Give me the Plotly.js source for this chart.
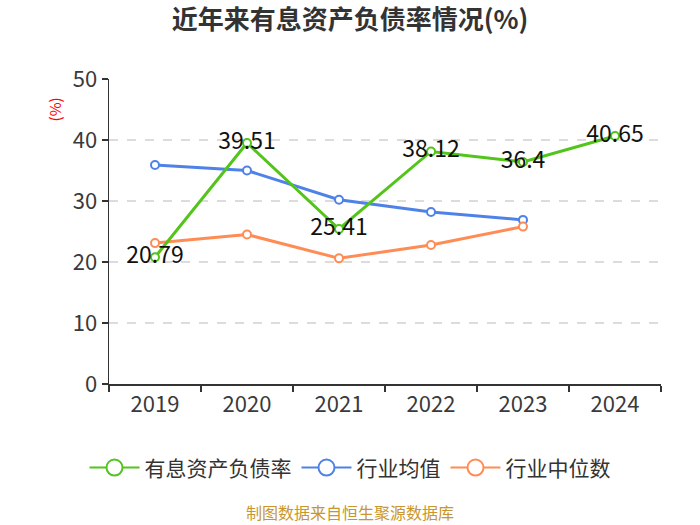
<!DOCTYPE html>
<html>
<head>
<meta charset="utf-8">
<script src="https://cdn.plot.ly/plotly-3.0.1.min.js"></script>
<style>html,body{margin:0;padding:0;background:#fff;}#chart{width:700px;height:525px;}</style>
</head>
<body>
<div id="chart"></div>
<script>
var years = ['2019', '2020', '2021', '2022', '2023', '2024'];
var debtRatio = [20.79, 39.51, 25.41, 38.12, 36.4, 40.65];
var industryMean = [35.9, 35.0, 30.2, 28.2, 26.9];
var industryMedian = [23.1, 24.5, 20.6, 22.8, 25.8];
var seriesNames = ['有息资产负债率', '行业均值', '行业中位数'];
var colors = ['#52c41a', '#4f82e8', '#ff8c55'];
var FONT = 'Noto Sans CJK SC, Noto Sans, sans-serif';

function lineTrace(x, y, name, color, withText) {
  var t = {
    x: x, y: y, name: name, type: 'scatter', mode: withText ? 'lines+markers+text' : 'lines+markers',
    line: {color: color, width: 3},
    marker: {symbol: 'circle', size: 8, color: '#fff', line: {color: color, width: 2}},
    showlegend: false, cliponaxis: false, hoverinfo: 'x+y'
  };
  if (withText) {
    t.text = y.map(String);
    t.textposition = 'middle center';
    t.textfont = {family: FONT, size: 23, color: '#111'};
  }
  return t;
}
function legendTrace(name, color) {
  return {
    x: [null], y: [null], name: name, type: 'scatter', mode: 'lines+markers',
    line: {color: color, width: 2},
    marker: {symbol: 'circle', size: 16, color: '#fff', line: {color: color, width: 2}},
    showlegend: true
  };
}

var data = [
  lineTrace(years.slice(0, industryMean.length), industryMean, seriesNames[1], colors[1], false),
  lineTrace(years.slice(0, industryMedian.length), industryMedian, seriesNames[2], colors[2], false),
  lineTrace(years, debtRatio, seriesNames[0], colors[0], true),
  legendTrace(seriesNames[0], colors[0]),
  legendTrace(seriesNames[1], colors[1]),
  legendTrace(seriesNames[2], colors[2])
];

var layout = {
  width: 700, height: 525,
  margin: {l: 109, r: 39, t: 79, b: 141},
  paper_bgcolor: '#fff', plot_bgcolor: '#fff',
  font: {family: FONT, color: '#333'},
  title: {text: '<b>近年来有息资产负债率情况(%)</b>', x: 0.5, xanchor: 'center', y: 0.962, yanchor: 'middle',
          font: {family: FONT, size: 26, color: '#333'}},
  xaxis: {
    type: 'category', categoryorder: 'array', categoryarray: years, range: [-0.5, 5.5],
    showline: true, linecolor: '#333', linewidth: 1.5,
    ticks: 'outside', tickson: 'boundaries', ticklen: 6, tickcolor: '#333', tickwidth: 1.5,
    showgrid: false, tickfont: {family: FONT, size: 22, color: '#3a3a3a'}, fixedrange: true
  },
  yaxis: {
    range: [0, 50], dtick: 10, tick0: 0,
    showline: true, linecolor: '#333', linewidth: 1.5,
    ticks: 'outside', ticklen: 6, tickcolor: '#333', tickwidth: 1.5,
    showgrid: true, gridcolor: '#dcdcdc', gridwidth: 1.5, griddash: 'dash',
    zeroline: false, tickfont: {family: FONT, size: 22, color: '#3a3a3a'}, fixedrange: true
  },
  legend: {orientation: 'h', x: 0.4366, xanchor: 'center', y: -0.275, yanchor: 'middle',
           font: {family: FONT, size: 21, color: '#333'}, itemwidth: 50},
  annotations: [
    {text: '(%)', xref: 'paper', yref: 'paper', x: -0.098, y: 0.9, xanchor: 'center', yanchor: 'middle',
     showarrow: false, textangle: -90, font: {family: FONT, size: 15, color: '#ff0000'}},
    {text: '制图数据来自恒生聚源数据库', xref: 'paper', yref: 'paper', x: 0.4366, y: -0.42,
     xanchor: 'center', yanchor: 'middle', showarrow: false,
     font: {family: FONT, size: 16, color: '#c8962d'}}
  ]
};

Plotly.newPlot('chart', data, layout, {displayModeBar: false, staticPlot: true});
</script>
</body>
</html>
